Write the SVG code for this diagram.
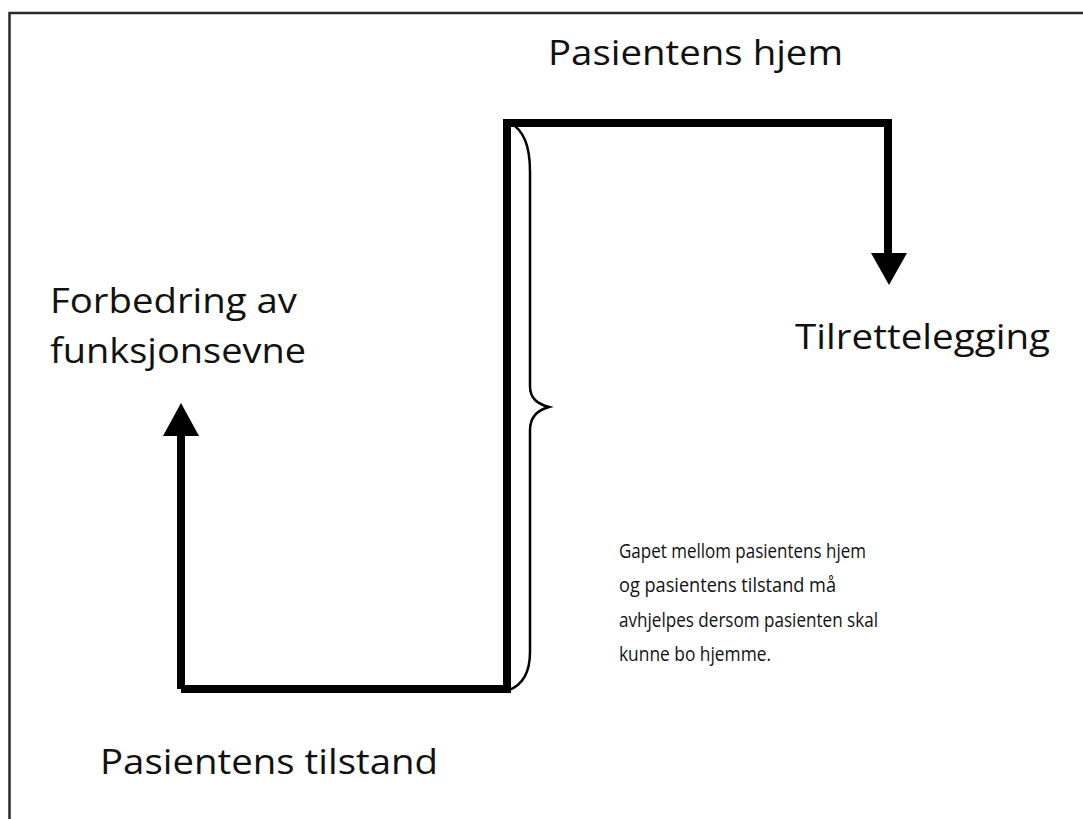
<svg xmlns="http://www.w3.org/2000/svg" width="1083" height="819" viewBox="0 0 1083 819">
  <style>
    .lbl { font-family: "Open Sans", "Liberation Sans", sans-serif; fill: #111; font-weight: 500; }
    .big { font-size: 34px; }
    .small { font-size: 19.5px; }
    .flow { fill: none; stroke: #000; stroke-width: 8; stroke-linejoin: miter; }
    .brace { fill: none; stroke: #000; stroke-width: 2.5; }
    .head { fill: #000; }
  </style>

  <!-- frame (open to the right and bottom) -->
  <rect x="9.5" y="13" width="1120" height="850" fill="#fff" stroke="#2a2a2a" stroke-width="2.5"/>

  <!-- connectors -->
  <g id="connectors">
    <path class="flow" d="M181 689 H507 V123 H888 V256"/>
    <path class="flow" d="M181 689 V434"/>
    <polygon class="head" points="181,403 163,436 199,436"/>
    <polygon class="head" points="871,253 907,253 889,285"/>
    <path class="brace" d="M509 122 C524 130 530 146 530 172 V386 C530 399 538 404 549 407 C538 410 530 416 530 430 V652 C530 674 522 685 509 690"/>
  </g>

  <g id="node-hjem">
    <text class="lbl big" x="548" y="65" textLength="295" lengthAdjust="spacingAndGlyphs">Pasientens hjem</text>
  </g>

  <g id="node-forbedring">
    <text class="lbl big" x="50" y="313" textLength="247" lengthAdjust="spacingAndGlyphs">Forbedring av</text>
    <text class="lbl big" x="50" y="363" textLength="256" lengthAdjust="spacingAndGlyphs">funksjonsevne</text>
  </g>

  <g id="node-tilrettelegging">
    <text class="lbl big" x="795" y="349" textLength="255" lengthAdjust="spacingAndGlyphs">Tilrettelegging</text>
  </g>

  <g id="node-tilstand">
    <text class="lbl big" x="100" y="774" textLength="338" lengthAdjust="spacingAndGlyphs">Pasientens tilstand</text>
  </g>

  <g id="note-gap">
    <text class="lbl small" x="619" y="558" textLength="247" lengthAdjust="spacingAndGlyphs">Gapet mellom pasientens hjem</text>
    <text class="lbl small" x="619" y="592" textLength="217" lengthAdjust="spacingAndGlyphs">og pasientens tilstand må</text>
    <text class="lbl small" x="619" y="627" textLength="259" lengthAdjust="spacingAndGlyphs">avhjelpes dersom pasienten skal</text>
    <text class="lbl small" x="619" y="661" textLength="152" lengthAdjust="spacingAndGlyphs">kunne bo hjemme.</text>
  </g>
</svg>
